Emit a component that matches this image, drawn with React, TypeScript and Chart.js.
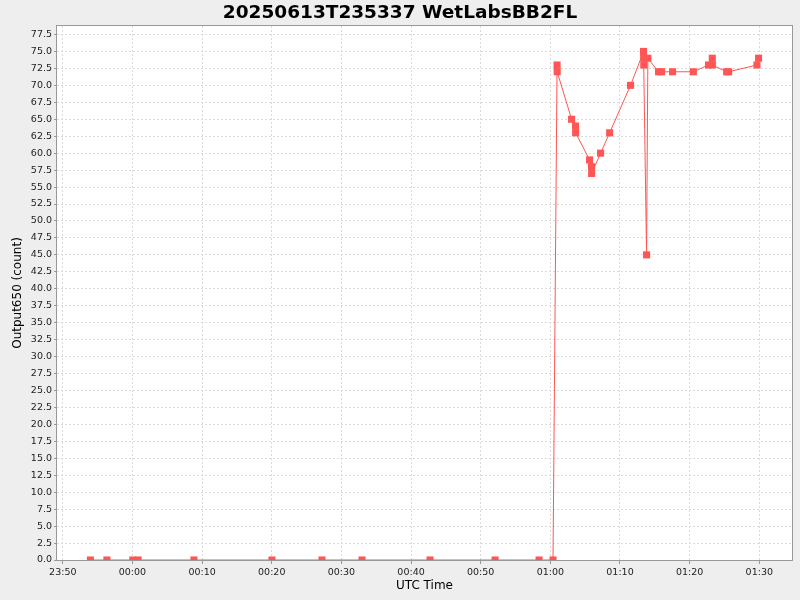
import React, { useEffect, useRef } from 'react';
import Chart from 'chart.js/auto';

// UTC sample times of the WetLabsBB2FL cast
const sampleTimes = [
  '23:53:58', '23:56:20', '00:00:03', '00:00:49', '00:08:50', '00:20:02',
  '00:27:13', '00:32:58', '00:42:44', '00:52:04', '00:58:23', '01:00:23',
  '01:00:58', '01:00:59', '01:03:03', '01:03:37', '01:03:38', '01:05:38',
  '01:05:55', '01:05:56', '01:07:13', '01:08:31', '01:11:31', '01:13:23',
  '01:13:24', '01:13:25', '01:13:49', '01:14:00', '01:15:32', '01:15:58',
  '01:17:33', '01:20:32', '01:22:43', '01:23:15', '01:23:16', '01:25:19',
  '01:25:36', '01:29:40', '01:29:54',
];

// Output650 (count)
const output650 = [
  0, 0, 0, 0, 0, 0,
  0, 0, 0, 0, 0, 0,
  73, 72, 65, 64, 63, 59,
  58, 57, 60, 63, 70, 75,
  74, 73, 45, 74, 72, 72,
  72, 72, 73, 74, 73, 72,
  72, 73, 74,
];

const chartTitle = '20250613T235337 WetLabsBB2FL';
const xAxisLabel = 'UTC Time';
const yAxisLabel = 'Output650 (count)';

const FONT = '"DejaVu Sans", sans-serif';
const SERIES_COLOR = '#FF5555';

// minutes relative to 00:00 (times before noon belong to the next day)
const toMinutes = (t: string) => {
  const [h, m, s] = t.split(':').map(Number);
  const v = h * 60 + m + s / 60;
  return h >= 12 ? v - 1440 : v;
};

const pad = (n: number) => String(n).padStart(2, '0');

const formatTime = (v: number) => {
  const m = ((Math.round(v) % 1440) + 1440) % 1440;
  return `${pad(Math.floor(m / 60))}:${pad(m % 60)}`;
};

const framePlugin = {
  id: 'frame',
  beforeDraw(chart: Chart) {
    const { ctx, chartArea: a, width, height } = chart;
    ctx.save();
    ctx.fillStyle = '#EEEEEE';
    ctx.fillRect(0, 0, width, height);
    ctx.fillStyle = '#FFFFFF';
    ctx.fillRect(a.left, a.top, a.right - a.left, a.bottom - a.top);
    ctx.restore();
  },
  afterDatasetsDraw(chart: Chart) {
    const { ctx, chartArea: a } = chart;
    ctx.save();
    ctx.strokeStyle = '#999999';
    ctx.lineWidth = 1;
    ctx.strokeRect(a.left - 0.5, a.top - 0.5, a.right - a.left + 1, a.bottom - a.top + 1);
    ctx.restore();
  },
  afterDraw(chart: Chart) {
    const { ctx, chartArea: a, width } = chart;
    ctx.save();
    ctx.fillStyle = '#000000';
    ctx.textAlign = 'center';

    // title
    ctx.font = `bold 18.5px ${FONT}`;
    ctx.textBaseline = 'alphabetic';
    ctx.fillText(chartTitle, width / 2, 18);

    // axis labels
    ctx.font = `12px ${FONT}`;
    ctx.textBaseline = 'middle';
    ctx.fillText(xAxisLabel, (a.left + a.right) / 2, 586);

    ctx.translate(18, (a.top + a.bottom) / 2);
    ctx.rotate(-Math.PI / 2);
    ctx.fillText(yAxisLabel, 0, 0);
    ctx.restore();
  },
};

const App: React.FC = () => {
  const chartRef = useRef<HTMLCanvasElement>(null);
  const chartInstance = useRef<Chart | null>(null);

  useEffect(() => {
    if (!chartRef.current) return;
    if (chartInstance.current) {
      chartInstance.current.destroy();
    }
    const ctx = chartRef.current.getContext('2d');
    if (!ctx) return;

    const points = sampleTimes.map((t, i) => ({ x: toMinutes(t), y: output650[i] }));

    // 5% margins like the original plot
    const xs = points.map(p => p.x);
    const xMin = Math.min(...xs);
    const xMax = Math.max(...xs);
    const xMargin = (xMax - xMin) * 0.05;
    const yMax = Math.max(...output650) * 1.05;

    const gridCommon = {
      color: '#DADADA',
      lineWidth: 1,
      tickColor: '#999999',
      tickBorderDash: [],
    };
    // in chart.js 4 the dash of the grid lines sits under "border"
    const borderCommon = { display: false, dash: [2, 2] };

    chartInstance.current = new Chart(ctx, {
      type: 'line',
      data: {
        datasets: [{
          label: yAxisLabel,
          data: points,
          borderColor: SERIES_COLOR,
          backgroundColor: SERIES_COLOR,
          borderWidth: 1,
          pointStyle: 'rect',
          pointRadius: 5,
          pointBorderWidth: 0,
          pointBackgroundColor: SERIES_COLOR,
          tension: 0,
          clip: 0,
        }],
      },
      options: {
        animation: false,
        responsive: false,
        events: [],
        layout: {
          padding: { top: 26, right: 8, left: 0, bottom: 0 },
        },
        plugins: {
          legend: { display: false },
          title: { display: false },
          tooltip: { enabled: false },
        },
        scales: {
          x: {
            type: 'linear',
            min: xMin - xMargin,
            max: xMax + xMargin,
            border: borderCommon,
            grid: { ...gridCommon, tickLength: 4 },
            ticks: {
              stepSize: 10,
              includeBounds: false,
              maxRotation: 0,
              autoSkip: false,
              padding: 3,
              color: '#222222',
              font: { family: FONT, size: 9.5 },
              callback: (v) => formatTime(Number(v)),
            },
            afterFit: (scale) => {
              scale.height = 40;
            },
          },
          y: {
            type: 'linear',
            min: 0,
            max: yMax,
            border: borderCommon,
            grid: { ...gridCommon, tickLength: 3 },
            ticks: {
              stepSize: 2.5,
              includeBounds: false,
              autoSkip: false,
              padding: 2,
              color: '#222222',
              font: { family: FONT, size: 9.5 },
              callback: (v) => Number(v).toFixed(1),
            },
            afterFit: (scale) => {
              scale.width = 57;
            },
          },
        },
      },
      plugins: [framePlugin],
    });

    return () => {
      if (chartInstance.current) {
        chartInstance.current.destroy();
        chartInstance.current = null;
      }
    };
  }, []);

  return (
    <div style={{ position: 'fixed', left: 0, top: 0, width: 800, height: 600, background: '#EEEEEE' }}>
      <canvas ref={chartRef} width={800} height={600} style={{ display: 'block' }} />
    </div>
  );
};

export default App;
